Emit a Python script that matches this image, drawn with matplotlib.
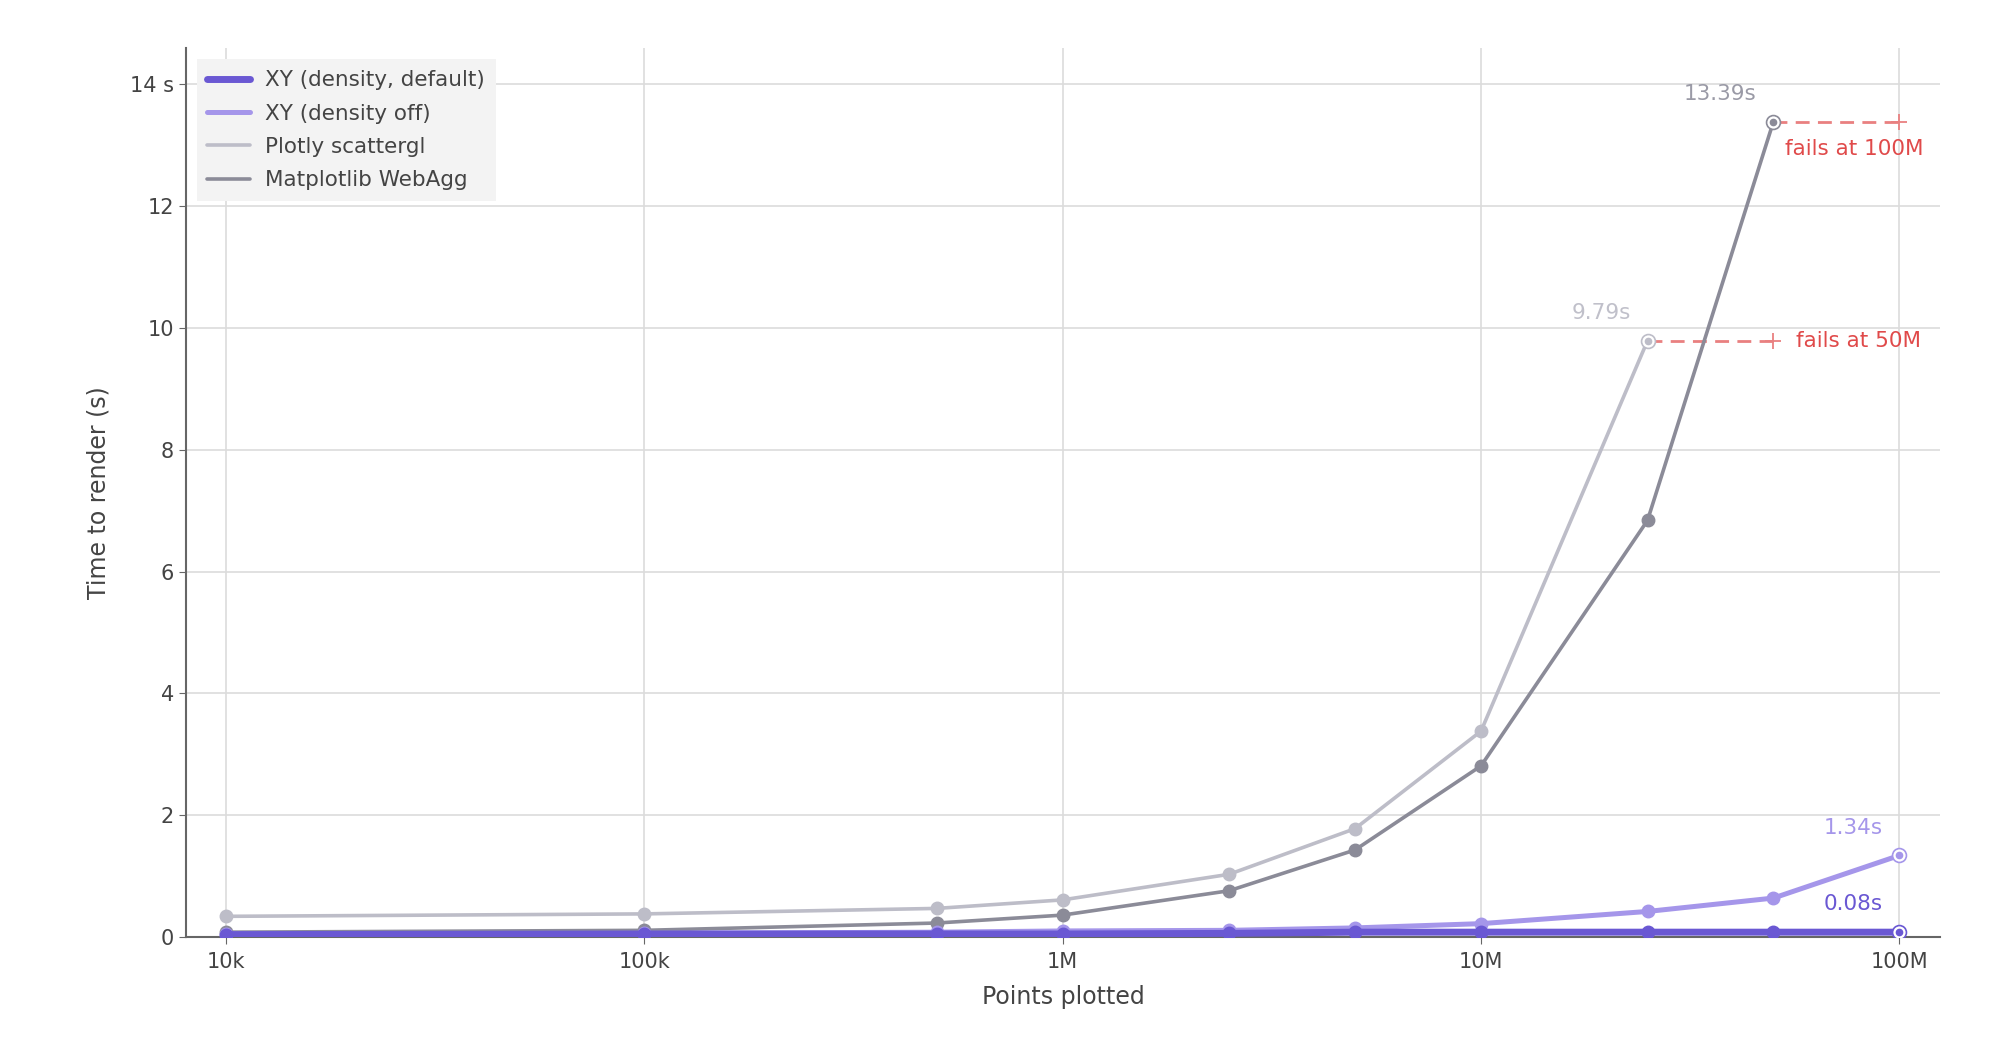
import numpy as np
import matplotlib
matplotlib.use('Agg')
import matplotlib.pyplot as plt
from matplotlib.ticker import FixedLocator, FuncFormatter

# Pontos plotados (eixo x em escala log)
points = [1e4, 1e5, 5e5, 1e6, 2.5e6, 5e6, 1e7, 2.5e7, 5e7, 1e8]

# Tempos de renderizacao (s)
xy_default = [0.04, 0.05, 0.05, 0.05, 0.06, 0.08, 0.08, 0.08, 0.08, 0.08]
xy_off = [0.05, 0.06, 0.08, 0.10, 0.11, 0.15, 0.22, 0.42, 0.64, 1.34]
plotly = [0.34, 0.38, 0.47, 0.61, 1.03, 1.78, 3.38, 9.79]          # falha em 50M
webagg = [0.08, 0.11, 0.23, 0.36, 0.76, 1.43, 2.81, 6.84, 13.39]   # falha em 100M

series = [
    ('XY (density, default)', xy_default, '#6a58d3', 5.0, 5),
    ('XY (density off)', xy_off, '#a596ea', 3.6, 4),
    ('Plotly scattergl', plotly, '#bdbdc8', 2.6, 3),
    ('Matplotlib WebAgg', webagg, '#8b8b98', 2.6, 3),
]

end_labels = {
    'XY (density, default)': ('0.08s', '#6a58d3'),
    'XY (density off)': ('1.34s', '#a596ea'),
    'Plotly scattergl': ('9.79s', '#c0c0ca'),
    'Matplotlib WebAgg': ('13.39s', '#9a9aa6'),
}

fails = [
    ('Plotly scattergl', 5e7, 'fails at 50M'),
    ('Matplotlib WebAgg', 1e8, 'fails at 100M'),
]

plt.rcParams['font.family'] = ['DejaVu Sans']

fig = plt.figure(figsize=(20, 10.4), dpi=100)
ax = fig.add_axes([0.093, 0.099, 0.877, 0.855])

for name, ys, color, lw, z in series:
    xs = points[:len(ys)]
    ax.plot(xs, ys, color=color, lw=lw, marker='o', ms=9, label=name, zorder=z,
            solid_capstyle='round')
    # ultimo ponto: circulo aberto com ponto no meio
    ax.plot(xs[-1], ys[-1], marker='o', ms=10, mfc='white', mec=color, mew=1.2, zorder=z + 1)
    ax.plot(xs[-1], ys[-1], marker='o', ms=4.5, color=color, zorder=z + 2)
    txt, tc = end_labels[name]
    ax.annotate(txt, (xs[-1], ys[-1]), xytext=(-12, 20), textcoords='offset points',
                ha='right', va='center', color=tc, fontsize=15.5)

# linhas de falha
for name, xend, txt in fails:
    ys = dict((s[0], s[1]) for s in series)[name]
    x0 = points[len(ys) - 1]
    y0 = ys[-1]
    ax.plot([x0, xend], [y0, y0], color='#e98080', lw=2.0, ls=(0, (5, 3)), zorder=2)
    ax.plot(xend, y0, marker='+', ms=12, mew=1.3, color='#e98080', zorder=2)
    if xend < 1e8:
        ax.annotate(txt, (xend, y0), xytext=(16, 0), textcoords='offset points',
                    ha='left', va='center', color='#e04a4a', fontsize=15.5)
    else:
        ax.annotate(txt, (x0, y0), xytext=(8, -20), textcoords='offset points',
                    ha='left', va='center', color='#e04a4a', fontsize=15.5)

ax.set_xscale('log')
ax.set_xlim(10 ** 3.905, 10 ** 8.097)
ax.set_ylim(0, 14.6)

xticks = [1e4, 1e5, 1e6, 1e7, 1e8]
xlabels = ['10k', '100k', '1M', '10M', '100M']
ax.xaxis.set_major_locator(FixedLocator(xticks))
ax.set_xticklabels(xlabels)
ax.xaxis.set_minor_locator(FixedLocator([]))

yticks = [0, 2, 4, 6, 8, 10, 12, 14]
ax.set_yticks(yticks)
ax.yaxis.set_major_formatter(FuncFormatter(lambda v, p: '14 s' if v == 14 else f'{v:g}'))

ax.grid(True, color='#dcdcdc', lw=1.2)
ax.set_axisbelow(True)
for s in ['top', 'right']:
    ax.spines[s].set_visible(False)
for s in ['left', 'bottom']:
    ax.spines[s].set_color('#666666')
    ax.spines[s].set_linewidth(1.5)
ax.tick_params(axis='both', colors='#666666', labelcolor='#444444', labelsize=15, length=5)
ax.tick_params(axis='x', pad=6)

ax.set_xlabel('Points plotted', fontsize=17, color='#444444', labelpad=9)
ax.set_ylabel('Time to render (s)', fontsize=17, color='#444444', labelpad=14)

leg = ax.legend(loc='upper left', fontsize=15.5, frameon=True, fancybox=False,
                borderpad=0.5, handlelength=2.0, handletextpad=0.7, labelspacing=0.62,
                borderaxespad=0, bbox_to_anchor=(0.006, 0.987))
leg.get_frame().set_facecolor('#f3f3f3')
leg.get_frame().set_edgecolor('none')
leg.get_frame().set_alpha(1)
for h in leg.get_lines():
    h.set_marker('')
for t in leg.get_texts():
    t.set_color('#444444')

fig.savefig('out.png', dpi=100)
